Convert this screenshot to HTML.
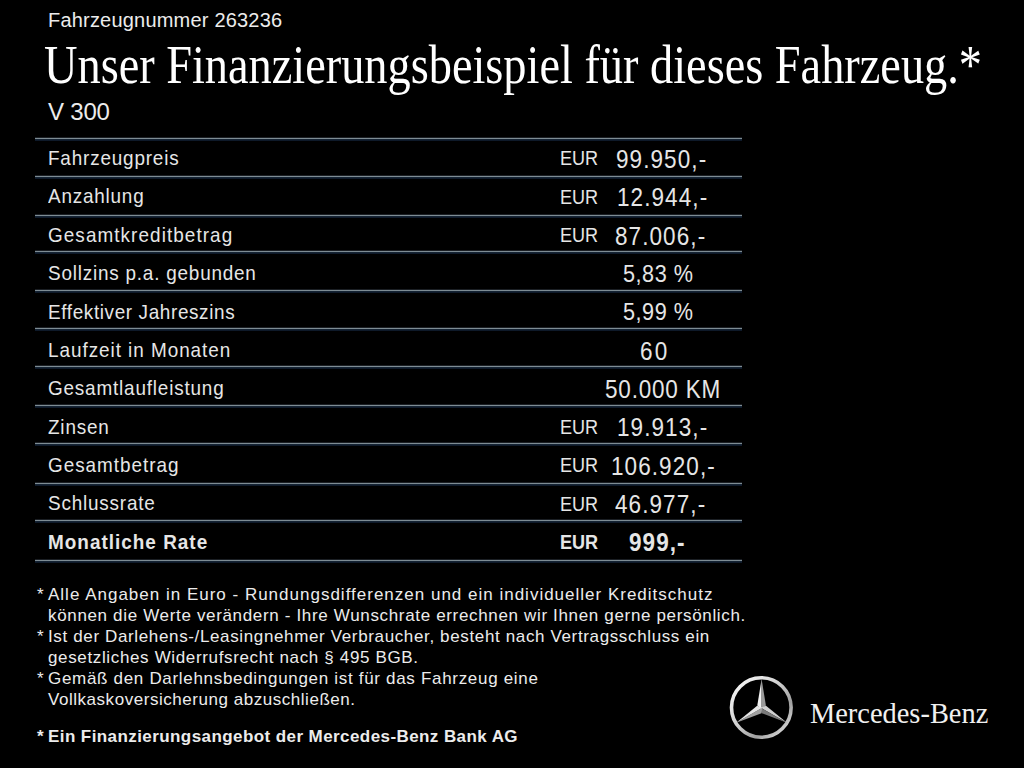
<!DOCTYPE html>
<html>
<head>
<meta charset="utf-8">
<style>
html,body{margin:0;padding:0;background:#000;}
body{width:1024px;height:768px;position:relative;overflow:hidden;color:#fff;font-family:"Liberation Sans",sans-serif;}
.t{position:absolute;white-space:nowrap;line-height:1;}
.serif{font-family:"Liberation Serif",serif;}
.hl{position:absolute;left:35px;width:707px;height:1px;background:#7e8c94;}
.hl::before{content:"";position:absolute;left:0;top:-1px;width:100%;height:1px;background:#1b1f24;}
.hl::after{content:"";position:absolute;left:0;top:1px;width:100%;height:2px;background:linear-gradient(#182838,#0a1424);}
.lab{position:absolute;left:48px;font-size:21px;line-height:1;white-space:nowrap;color:#e6e6e6;transform-origin:0 0;transform:scaleX(0.9);letter-spacing:0.8px;}
.eur{position:absolute;left:560px;font-size:21px;line-height:1;color:#e6e6e6;transform-origin:0 0;transform:scaleX(0.86);}
.val{position:absolute;font-size:25px;line-height:1;color:#e6e6e6;white-space:nowrap;transform-origin:0 0;transform:scaleX(0.9);letter-spacing:1.2px;}
.fn{position:absolute;left:48px;font-size:17px;line-height:1;white-space:nowrap;color:#ececec;}
.st{position:absolute;left:37px;font-size:17px;line-height:1;color:#ececec;}
</style>
</head>
<body>
<div class="t" style="left:48px;top:10px;font-size:20px;color:#ececec;letter-spacing:0.2px;">Fahrzeugnummer 263236</div>
<div class="t serif" style="left:44px;top:38px;font-size:54px;transform-origin:0 0;transform:scaleX(0.858);">Unser Finanzierungsbeispiel für dieses Fahrzeug.*</div>
<div class="t" style="left:48px;top:99.5px;font-size:24px;color:#ececec;letter-spacing:-0.2px;">V 300</div>

<div class="hl" style="top:138px"></div>
<div class="hl" style="top:176px"></div>
<div class="hl" style="top:215px"></div>
<div class="hl" style="top:251px"></div>
<div class="hl" style="top:290px"></div>
<div class="hl" style="top:328px"></div>
<div class="hl" style="top:366px"></div>
<div class="hl" style="top:405px"></div>
<div class="hl" style="top:443px"></div>
<div class="hl" style="top:483px"></div>
<div class="hl" style="top:520px"></div>
<div class="hl" style="top:560px"></div>
<div class="lab" style="top:146.9px;letter-spacing:0.91px">Fahrzeugpreis</div>
<div class="eur" style="top:147.2px">EUR</div>
<div class="val" style="left:615.8px;top:147.1px">99.950,-</div>
<div class="lab" style="top:185.3px;letter-spacing:0.88px">Anzahlung</div>
<div class="eur" style="top:185.6px">EUR</div>
<div class="val" style="left:617.2px;top:185.4px">12.944,-</div>
<div class="lab" style="top:223.7px;letter-spacing:1.19px">Gesamtkreditbetrag</div>
<div class="eur" style="top:223.9px">EUR</div>
<div class="val" style="left:615.3px;top:223.7px">87.006,-</div>
<div class="lab" style="top:262.1px;letter-spacing:0.88px">Sollzins p.a. gebunden</div>
<div class="val" style="left:623.2px;top:262.0px;font-size:24px;letter-spacing:0.6px">5,83 %</div>
<div class="lab" style="top:300.5px;letter-spacing:0.7px">Effektiver Jahreszins</div>
<div class="val" style="left:623.2px;top:300.3px;font-size:24px;letter-spacing:0.6px">5,99 %</div>
<div class="lab" style="top:338.9px;letter-spacing:1.07px">Laufzeit in Monaten</div>
<div class="val" style="left:639.8px;top:338.6px;letter-spacing:2.5px">60</div>
<div class="lab" style="top:377.3px;letter-spacing:0.91px">Gesamtlaufleistung</div>
<div class="val" style="left:604.5px;top:376.9px;letter-spacing:0.9px">50.000 KM</div>
<div class="lab" style="top:415.6px;letter-spacing:0.91px">Zinsen</div>
<div class="eur" style="top:415.7px">EUR</div>
<div class="val" style="left:617.4px;top:415.2px">19.913,-</div>
<div class="lab" style="top:454.0px;letter-spacing:1.08px">Gesamtbetrag</div>
<div class="eur" style="top:454.1px">EUR</div>
<div class="val" style="left:611.4px;top:453.5px">106.920,-</div>
<div class="lab" style="top:492.4px;letter-spacing:0.9px">Schlussrate</div>
<div class="eur" style="top:492.5px">EUR</div>
<div class="val" style="left:615.0px;top:491.8px">46.977,-</div>
<div class="lab" style="top:530.8px;letter-spacing:1.13px;font-weight:bold">Monatliche Rate</div>
<div class="eur" style="top:530.8px;font-weight:bold">EUR</div>
<div class="val" style="left:628.8px;top:530.1px;font-weight:bold">999,-</div>
<div class="st" style="top:585.6px">*</div>
<div class="fn" style="top:585.6px;letter-spacing:1.0px">Alle Angaben in Euro - Rundungsdifferenzen und ein individueller Kreditschutz</div>
<div class="fn" style="top:606.6px;letter-spacing:0.66px">können die Werte verändern - Ihre Wunschrate errechnen wir Ihnen gerne persönlich.</div>
<div class="st" style="top:627.6px">*</div>
<div class="fn" style="top:627.6px;letter-spacing:0.636px">Ist der Darlehens-/Leasingnehmer Verbraucher, besteht nach Vertragsschluss ein</div>
<div class="fn" style="top:648.6px;letter-spacing:0.643px">gesetzliches Widerrufsrecht nach § 495 BGB.</div>
<div class="st" style="top:669.6px">*</div>
<div class="fn" style="top:669.6px;letter-spacing:0.69px">Gemäß den Darlehnsbedingungen ist für das Fahrzeug eine</div>
<div class="fn" style="top:690.6px;letter-spacing:0.537px">Vollkaskoversicherung abzuschließen.</div>
<div class="st" style="top:727.6px;font-weight:bold">*</div>
<div class="fn" style="top:727.6px;letter-spacing:0.42px;font-weight:bold">Ein Finanzierungsangebot der Mercedes-Benz Bank AG</div>
<svg style="position:absolute;left:727px;top:673px" width="70" height="70" viewBox="0 0 70 70">
  <defs>
    <linearGradient id="rg" x1="0" y1="0" x2="1" y2="1">
      <stop offset="0" stop-color="#ffffff"/>
      <stop offset="0.45" stop-color="#cfcfcf"/>
      <stop offset="0.7" stop-color="#a0a0a0"/>
      <stop offset="1" stop-color="#f0f0f0"/>
    </linearGradient>
  </defs>
  <circle cx="34.3" cy="34.5" r="29.8" fill="none" stroke="url(#rg)" stroke-width="3.6"/>
  <g transform="translate(34.6,35.2)">
    <g><polygon points="0,-29.3 -4.3,-2.6 0,0.8" fill="#f2f2f2"/><polygon points="0,-29.3 4.3,-2.6 0,0.8" fill="#9a9a9a"/></g>
    <g transform="rotate(120)"><polygon points="0,-29.3 -4.3,-2.6 0,0.8" fill="#d0d0d0"/><polygon points="0,-29.3 4.3,-2.6 0,0.8" fill="#7a7a7a"/></g>
    <g transform="rotate(240)"><polygon points="0,-29.3 -4.3,-2.6 0,0.8" fill="#a0a0a0"/><polygon points="0,-29.3 4.3,-2.6 0,0.8" fill="#e6e6e6"/></g>
  </g>
</svg>
<div class="t serif" style="left:810px;top:698px;font-size:30px;color:#f0f0f0;transform-origin:0 0;transform:scaleX(0.947);">Mercedes-Benz</div>
</body>
</html>
